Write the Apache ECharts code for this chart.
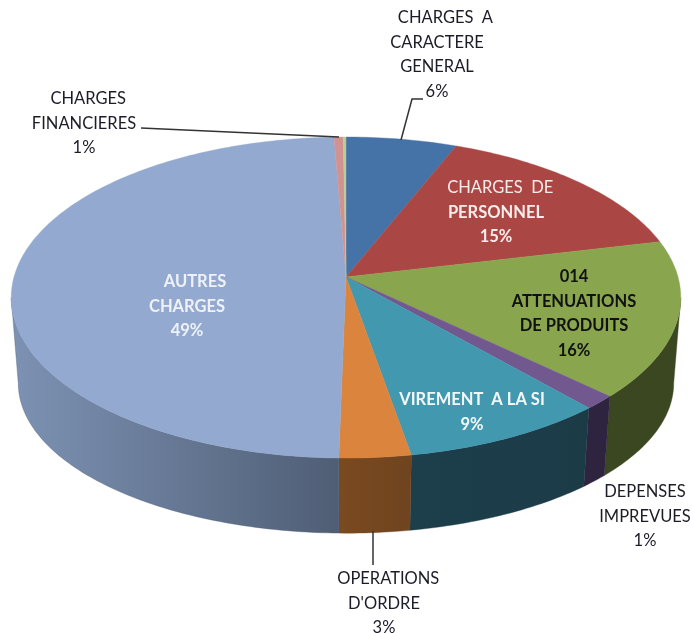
<!DOCTYPE html>
<html lang="en">

<head>
  <meta charset="UTF-8">
  <title>pie</title>
  <style>
    html, body { margin: 0; background: #fff; }
    #chart { width: 693px; height: 633px; filter: blur(0.45px); }
  </style>
</head>

<body>
  <div id="chart"></div>
  <script src="https://cdn.jsdelivr.net/npm/echarts@6/dist/echarts.min.js"></script>
  <script>
    // values, clockwise from 12 o'clock
    const categories = [
      '    CHARGES  A\nCARACTERE\nGENERAL',
      '  CHARGES  DE\nPERSONNEL',
      '014\nATTENUATIONS\nDE PRODUITS',
      'DEPENSES\nIMPREVUES',
      'VIREMENT  A LA SI',
      '  OPERATIONS\nD\'ORDRE',
      '    AUTRES\nCHARGES',
      '  CHARGES\nFINANCIERES',
      ''
    ]
    const sliceValues = [6.05, 15.25, 15.8, 1.4, 8.75, 3.05, 49.05, 0.5, 0.15]
    const topColors = ['#4572A7', '#AA4643', '#89A54E', '#71588F', '#4198AF', '#DB843D', '#93A9CF', '#D19392', '#B9CD96']
    const wallColors = ['#2a4464', '#662a28', '#3b4720', '#2f2440', '#1c3f4b', '#7a4a20', '#7d92b4', '#7d5857', '#6f7b5a']
    const wallEndColors = ['#2a4464', '#662a28', '#3b4720', '#2f2440', '#1b3b47', '#6f441f', '#4f5e75', '#7d5857', '#6f7b5a']

    // label layout: centre x and y of the first line
    const labelAnchors = [[437, 18], [496, 188], [574, 277], [645, 492], [472, 400], [384, 579], [187, 282], [84, 99], null]
    const labelFills = ['#1c1c28', '#fbecec', '#111', '#1c1c28', '#f2f8fa', '#1c1c28', '#eef2f8', '#1c1c28', '#000']
    // per line, the percent line included
    const labelWeights = [[400], [400, 700, 700], [700], [400], [700], [400], [700], [400], [400]]
    const leaders = [
      [[401, 140], [412, 99], [423, 99]],
      [[339, 137], [141, 128]],
      [[373, 531], [373, 565]]
    ]

    const total = sliceValues.reduce((a, b) => a + b, 0)
    const startAngles = []
    sliceValues.reduce((acc, v, i) => {
      startAngles[i] = acc / total * 360
      return acc + v
    }, 0)

    // projected discs: the apex sits above the centre of the ellipse
    const topDisc = { cx: 346, cy: 277, r: 332, ry: 157.9 }
    const bottomDisc = { cx: 346, cy: 364, r: 325, ry: 147.5 }
    const persp = 0.128
    const wallFrom = 97.4
    const wallTo = 262.6

    function project(disc, deg) {
      const a = deg * Math.PI / 180
      const u = Math.sin(a)
      const v = -Math.cos(a)
      const w = 1 - persp * v
      return [disc.cx + disc.r * u / w, disc.cy + disc.ry * v / w]
    }

    function arc(disc, from, to) {
      const pts = []
      const n = Math.max(2, Math.ceil(Math.abs(to - from)))
      for (let i = 0; i <= n; i++) pts.push(project(disc, from + (to - from) * i / n))
      return pts
    }

    function renderSlice(params, api) {
      const i = params.dataIndex
      const from = startAngles[i]
      const to = from + api.value(0) / total * 360
      const children = []

      // side wall, only the part that faces the viewer
      const a = Math.max(from, wallFrom)
      const b = Math.min(to, wallTo)
      if (b > a) {
        children.push({
          type: 'polygon',
          shape: { points: arc(topDisc, a, b).concat(arc(bottomDisc, b, a)) },
          style: {
            fill: new echarts.graphic.LinearGradient(0, 0, 1, 0, [
              { offset: 0, color: wallColors[i] },
              { offset: 1, color: wallEndColors[i] }
            ]),
            stroke: wallEndColors[i],
            lineWidth: 0.4
          }
        })
      }

      children.push({
        type: 'polygon',
        shape: { points: [[topDisc.cx, topDisc.cy]].concat(arc(topDisc, from, to)) },
        style: { fill: topColors[i], stroke: topColors[i], lineWidth: 0.4 }
      })

      if (labelAnchors[i]) {
        const lines = categories[i].split('\n').concat(Math.round(api.value(0) / total * 100) + '%')
        lines.forEach((line, k) => {
          const weight = labelWeights[i][k] || labelWeights[i][0]
          children.push({
            type: 'text',
            z2: 10,
            style: {
              text: line,
              x: labelAnchors[i][0],
              y: labelAnchors[i][1] + k * 24.4,
              fill: labelFills[i],
              font: weight + ' 16.5px Lato, "Open Sans", sans-serif',
              align: 'center',
              verticalAlign: 'middle'
            }
          })
        })
      }
      return { type: 'group', children }
    }

    const chart = echarts.init(document.getElementById('chart'))
    chart.setOption({
      animation: false,
      backgroundColor: '#fff',
      series: [
        {
          type: 'custom',
          coordinateSystem: 'none',
          silent: true,
          data: sliceValues,
          renderItem: renderSlice
        },
        {
          type: 'custom',
          coordinateSystem: 'none',
          silent: true,
          z: 5,
          data: leaders.map((_, i) => i),
          renderItem: (params) => ({
            type: 'polyline',
            shape: { points: leaders[params.dataIndex] },
            style: { fill: 'none', stroke: '#333', lineWidth: 1.5 }
          })
        }
      ]
    })
  </script>
</body>

</html>
